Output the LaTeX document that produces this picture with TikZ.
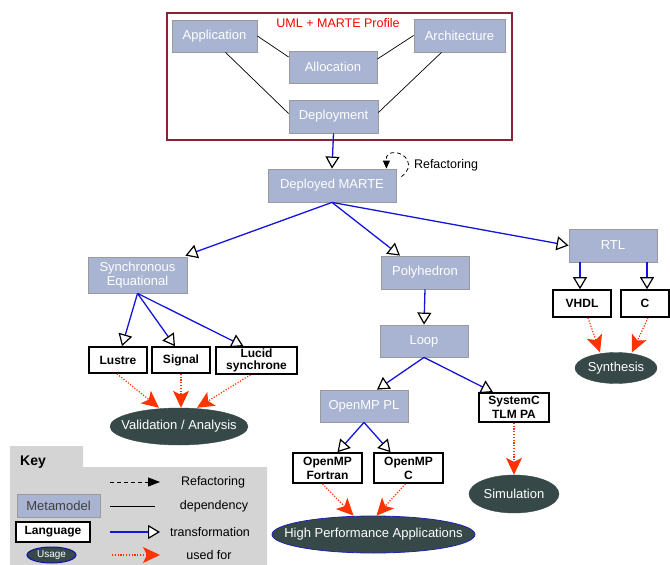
\documentclass[tikz,border=0pt]{standalone}
\usepackage{fontspec}
\setmainfont{Liberation Sans}
\usetikzlibrary{arrows.meta,shapes.geometric,calc}
\definecolor{metafill}{HTML}{A9B4D2}
\definecolor{metaborder}{HTML}{9A9A9A}
\definecolor{usefill}{HTML}{364848}
\definecolor{transblue}{HTML}{1414DC}
\definecolor{usedred}{HTML}{FF3300}
\definecolor{framered}{HTML}{8A2434}
\definecolor{keygrey}{HTML}{D4D4D4}
\newcommand{\zw}[1]{\makebox[0pt]{#1}}
\begin{document}
\begin{tikzpicture}[x=1pt,y=-1pt,
  meta/.style={rectangle, fill=metafill, draw=metaborder, line width=0.8pt, text=white,
    font=\fontsize{13}{14.5}\selectfont, inner sep=0pt, align=center},
  lang/.style={rectangle, fill=white, draw=black, line width=1.6pt,
    font=\bfseries\fontsize{12}{14}\selectfont, inner sep=0pt, align=center},
  usage/.style={ellipse, fill=usefill, draw=usefill, text=white,
    font=\fontsize{13}{14}\selectfont, inner sep=0pt},
  plain/.style={font=\fontsize{12.5}{14}\selectfont, inner sep=0pt},
  dep/.style={draw=black, line width=0.7pt},
  trans/.style={draw=transblue, line width=1.3pt,
    -{Triangle[length=12pt, width=14pt, color=black, fill=white, line width=1.2pt]}},
  usedfor/.style={draw=usedred, line width=1.2pt, dash pattern=on 1.2pt off 1.6pt,
    -{Stealth[length=17pt, width=16pt, inset=4pt, color=usedred]}},
  refac/.style={draw=black, line width=0.8pt, dash pattern=on 4pt off 3pt,
    -{Triangle[length=8pt, width=7pt, color=black]}}
]
\useasboundingbox (0,0) rectangle (670,565);

% Key background
\fill[keygrey] (10,446) -- (83,446) -- (83,467) -- (267,467) -- (267,565) -- (10,565) -- cycle;

% UML + MARTE frame
\node[draw=framered, line width=1.3pt, minimum width=345pt, minimum height=127pt, inner sep=0pt] (frame) at (339.5,76.5) {};
\node[plain, text=red] (title) at (338,23) {UML + MARTE Profile};

% Metamodels
\node[meta, minimum width=85pt, minimum height=32pt] (app) at (214.5,36) {Application};
\node[meta, minimum width=91pt, minimum height=33pt] (arch) at (459.5,35.5) {Architecture};
\node[meta, minimum width=88pt, minimum height=32pt] (alloc) at (333,67) {Allocation};
\node[meta, minimum width=89pt, minimum height=33pt] (depl) at (333.5,116.5) {Deployment};
\node[meta, minimum width=128pt, minimum height=33pt] (dm) at (332,185.5) {Deployed MARTE};
\node[meta, minimum width=99pt, minimum height=36pt] (synch) at (137.5,275) {Synchronous\\Equational};
\node[meta, minimum width=88pt, minimum height=33pt] (poly) at (425,272.5) {Polyhedron};
\node[meta, minimum width=88pt, minimum height=33pt] (rtl) at (613,245.5) {RTL};
\node[meta, minimum width=88pt, minimum height=32pt] (loop) at (424,341) {Loop};
\node[meta, minimum width=88pt, minimum height=32pt] (ompl) at (364,406) {OpenMP PL};

% Languages
\node[lang, minimum width=58pt, minimum height=26pt] (lustre) at (118,360) {Lustre};
\node[lang, minimum width=58pt, minimum height=26pt] (signal) at (181,360) {Signal};
\node[lang, minimum width=81pt, minimum height=27pt, font=\bfseries\fontsize{12}{11.5}\selectfont] (lucid) at (256.5,360.5) {Lucid\\synchrone};
\node[lang, minimum width=70pt, minimum height=29pt] (sysc) at (514,407.5) {SystemC\\TLM PA};
\node[lang, minimum width=69pt, minimum height=30pt] (ompf) at (327.5,468) {OpenMP\\Fortran};
\node[lang, minimum width=69pt, minimum height=30pt] (ompc) at (408.5,468) {OpenMP\\C};
\node[lang, minimum width=58pt, minimum height=27pt] (vhdl) at (582,303.5) {VHDL};
\node[lang, minimum width=48pt, minimum height=27pt] (cbox) at (645,303.5) {C};

% Usages
\node[usage, minimum width=138pt, minimum height=37pt] (val) at (179,426.5) {\zw{Validation / Analysis}};
\node[usage, minimum width=203pt, minimum height=37pt, draw=transblue!70!usefill, line width=0.8pt] (hpa) at (373.5,534.5) {\zw{High Performance Applications}};
\node[usage, minimum width=90pt, minimum height=38pt] (sim) at (514,494) {\zw{Simulation}};
\node[usage, minimum width=82pt, minimum height=31pt] (syn) at (616,368) {\zw{Synthesis}};

% Dependencies
\draw[dep] (app.east) -- ($(alloc.west)+(0,-10)$);
\draw[dep] ($(app.south)+(11,0)$) -- ($(depl.west)+(0,-3)$);
\draw[dep] (arch.west) -- ($(alloc.east)+(0,-8)$);
\draw[dep] ($(arch.south)+(-18,0)$) -- ($(depl.east)+(0,-4)$);

% Transformations
\draw[trans] (depl.south) -- (dm.north);
\draw[trans] (dm.south) -- ($(synch.north east)+(-2,-1)$);
\draw[trans] (dm.south) -- ($(poly.north)+(-25,0)$);
\draw[trans] (dm.south) -- (rtl.west);
\draw[trans] (synch.south) -- ($(lustre.north)+(4,0)$);
\draw[trans] (synch.south) -- ($(signal.north)+(-6,0)$);
\draw[trans] (synch.south) -- ($(lucid.north)+(-13,0)$);
\draw[trans] (poly.south) -- (loop.north);
\draw[trans] (loop.south) -- ($(ompl.north)+(13,0)$);
\draw[trans] (loop.south) -- ($(sysc.north)+(-21,0)$);
\draw[trans] (ompl.south) -- ($(ompf.north)+(10,0)$);
\draw[trans] (ompl.south) -- ($(ompc.north)+(-18,0)$);
\coordinate (vt) at ($(vhdl.north)+(-2,0)$);
\coordinate (ct) at ($(cbox.north)+(2,0)$);
\draw[trans] (vt |- rtl.south) -- (vt);
\draw[trans] (ct |- rtl.south) -- (ct);

% Refactoring loop
\draw[refac] ($(dm.north east)+(5,8)$) .. controls +(14,-10) and +(12,0) .. ($(dm.north east)+(-2,-16)$)
  .. controls +(-10,0) and +(0,-8) .. ($(dm.north east)+(-10,0)$);
\node[plain] (reftxt) at (446,165) {Refactoring};

% Used for
\draw[usedfor] ($(lustre.south)+(-1,0)$) -- ($(val.north)+(-20,0)$);
\draw[usedfor] (signal.south) -- (signal.south |- val.north);
\draw[usedfor] ($(lucid.south)+(-6,0)$) -- ($(val.north)+(18,0)$);
\draw[usedfor] ($(ompf.south)+(-5,0)$) -- ($(hpa.north)+(-20,0)$);
\draw[usedfor] ($(ompc.south)+(-3,0)$) -- ($(hpa.north)+(3,0)$);
\draw[usedfor] (sysc.south) -- (sim.north);
\draw[usedfor] ($(vhdl.south)+(6,0)$) -- ($(syn.north)+(-16,0)$);
\draw[usedfor] ($(cbox.south)+(3,0)$) -- ($(syn.north)+(16,0)$);

% Key
\node[font=\bfseries\fontsize{14}{16}\selectfont, inner sep=0pt] (key) at (33,462) {Key};
\coordinate (k1a) at (110,482); \coordinate (k1b) at (160,482);
\draw[refac, -{Triangle[length=12pt, width=9pt, color=black]}] (k1a) -- (k1b);
\node[plain] (k1t) at (213,482) {Refactoring};
\node[meta, minimum width=83pt, minimum height=23pt, text=black!75] (kmeta) at (58.5,505.5) {Metamodel};
\coordinate (k2a) at (110,506); \coordinate (k2b) at (155,506);
\draw[dep] (k2a) -- (k2b);
\node[plain] (k2t) at (214,506) {dependency};
\node[lang, minimum width=74pt, minimum height=20pt] (klang) at (53,532) {Language};
\coordinate (k3a) at (110,532); \coordinate (k3b) at (160,532);
\draw[trans] (k3a) -- (k3b);
\node[plain] (k3t) at (210,532) {transformation};
\node[usage, minimum width=49pt, minimum height=16pt, draw=transblue!80!black, line width=1pt, font=\fontsize{10}{12}\selectfont] (kuse) at (51.5,555) {\zw{Usage}};
\coordinate (k4a) at (112,555); \coordinate (k4b) at (160,555);
\draw[usedfor] (k4a) -- (k4b);
\node[plain] (k4t) at (209,555) {used for};
\end{tikzpicture}
\end{document}
